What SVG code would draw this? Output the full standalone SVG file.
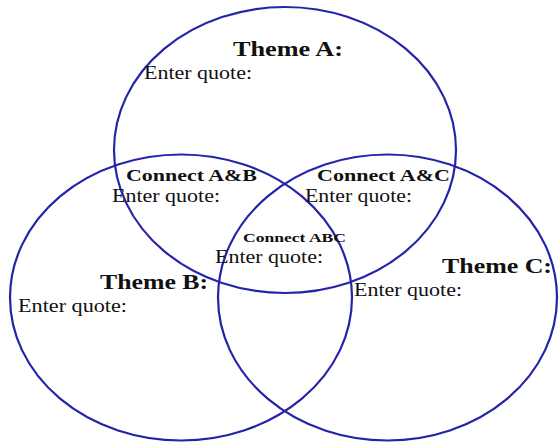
<svg xmlns="http://www.w3.org/2000/svg" width="560" height="446" viewBox="0 0 560 446">
<style>
.ring{fill:none;stroke:#2424a8;stroke-width:2.2}
.t{font-family:"Liberation Serif","Times New Roman",serif;fill:#111}
.h{font-weight:bold;font-size:22px}
.c{font-weight:bold;font-size:17px}
.s{font-weight:bold;font-size:13.5px}
.q{font-size:19px}
</style>
<rect width="560" height="446" fill="#fff"/>
<g id="circles">
<ellipse id="circleA" class="ring" cx="285" cy="150" rx="171" ry="143"/>
<ellipse id="circleB" class="ring" cx="181" cy="297.5" rx="171" ry="143"/>
<ellipse id="circleC" class="ring" cx="387.5" cy="297.5" rx="169.5" ry="143"/>
</g>
<g id="themeA">
<text class="t h" x="233" y="56" textLength="110" lengthAdjust="spacingAndGlyphs">Theme A:</text>
<text class="t q" x="144" y="79" textLength="108" lengthAdjust="spacingAndGlyphs">Enter quote:</text>
</g>
<g id="connectAB">
<text class="t c" x="126" y="181" textLength="131" lengthAdjust="spacingAndGlyphs">Connect A&amp;B</text>
<text class="t q" x="112" y="202" textLength="108" lengthAdjust="spacingAndGlyphs">Enter quote:</text>
</g>
<g id="connectAC">
<text class="t c" x="317" y="181" textLength="133" lengthAdjust="spacingAndGlyphs">Connect A&amp;C</text>
<text class="t q" x="305" y="202" textLength="107" lengthAdjust="spacingAndGlyphs">Enter quote:</text>
</g>
<g id="connectABC">
<text class="t s" x="243" y="242" textLength="103" lengthAdjust="spacingAndGlyphs">Connect ABC</text>
<text class="t q" x="215" y="263" textLength="108" lengthAdjust="spacingAndGlyphs">Enter quote:</text>
</g>
<g id="themeB">
<text class="t h" x="100" y="289" textLength="108" lengthAdjust="spacingAndGlyphs">Theme B:</text>
<text class="t q" x="18" y="312" textLength="109" lengthAdjust="spacingAndGlyphs">Enter quote:</text>
</g>
<g id="themeC">
<text class="t h" x="442" y="273" textLength="110" lengthAdjust="spacingAndGlyphs">Theme C:</text>
<text class="t q" x="354" y="296" textLength="108" lengthAdjust="spacingAndGlyphs">Enter quote:</text>
</g>
</svg>
